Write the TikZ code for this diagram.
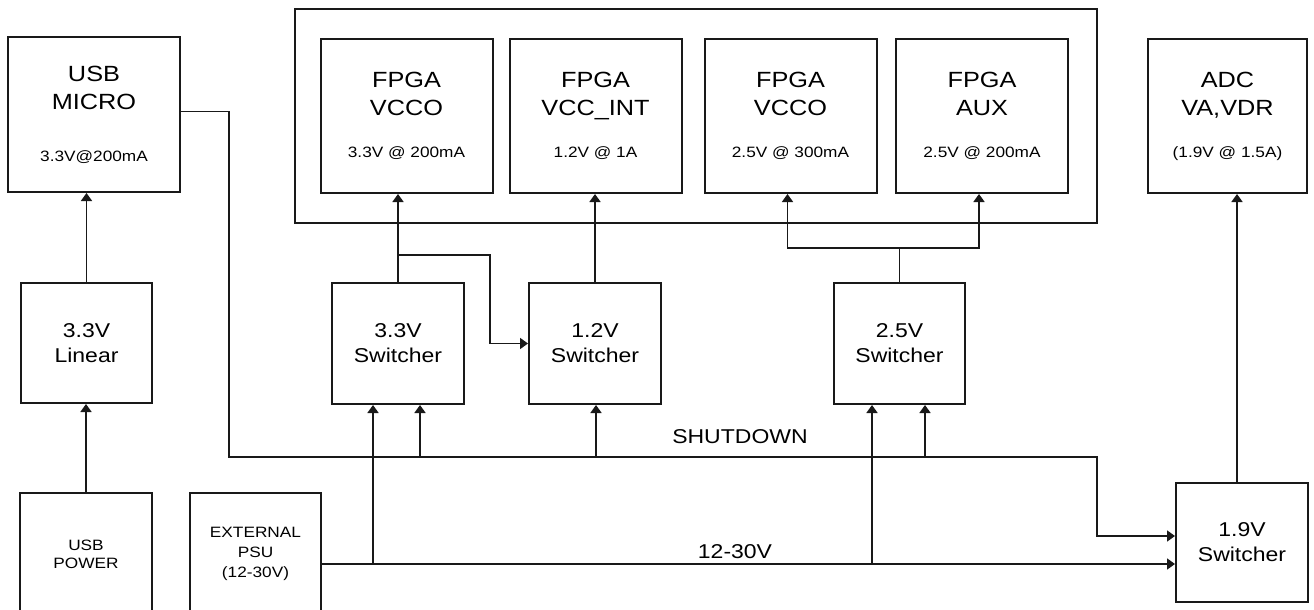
\documentclass[tikz,border=0pt]{standalone}
\usepackage{fontspec}
\setmainfont[FakeStretch=1.15]{Liberation Sans}
\usepackage{tikz}
\usetikzlibrary{arrows.meta,calc,positioning}
\tikzset{
  bloque/.style={draw=black!90,line width=2pt,align=center,inner sep=0pt,font=\fontsize{22}{28}\selectfont},
  conv/.style={bloque,minimum width=132pt,minimum height=121pt,font=\fontsize{20}{25}\selectfont},
  linea/.style={line width=1.7pt,black!90},
  flecha/.style={linea,-{Triangle[width=11pt,length=8pt]}},
  rotulo/.style={font=\fontsize{20}{24}\selectfont,inner sep=0pt}
}
\newcommand{\chico}[1]{{\fontsize{15}{18}\selectfont #1}}
\begin{document}
\begin{tikzpicture}[x=1pt,y=-1pt]
\useasboundingbox (0,0) rectangle (1314,610);
\clip (0,0) rectangle (1314,610);
\node[bloque,minimum width=172pt,minimum height=155pt] (usbmicro) at (94,114.5) {USB\\MICRO\\[24pt]\chico{3.3V@200mA}};
\node[bloque,minimum width=802pt,minimum height=214pt] (fpga) at (696,116) {};
\foreach \nom/\cx/\riel/\valor in {vcco33/406.5/VCCO/3.3V @ 200mA,vccint/595.5/VCC\_INT/1.2V @ 1A,vcco25/790.5/VCCO/2.5V @ 300mA,aux/982/AUX/2.5V @ 200mA}
  \node[bloque,minimum width=172pt,minimum height=154pt] (\nom) at (\cx,116) {FPGA\\\riel\\[14pt]\chico{\valor}};
\node[bloque,minimum width=159pt,minimum height=154pt] (adc) at (1227.5,116) {ADC\\VA,VDR\\[14pt]\chico{(1.9V @ 1.5A)}};
\node[conv,minimum width=131pt,minimum height=120pt] (lineal) at (86.5,343) {3.3V\\Linear};
\node[conv] (sw33) at (398,343.5) {3.3V\\Switcher};
\node[conv] (sw12) at (595,343.5) {1.2V\\Switcher};
\node[conv,minimum width=131pt] (sw25) at (899.5,343.5) {2.5V\\Switcher};
\node[conv,minimum height=119pt] (sw19) at (1242,542.5) {1.9V\\Switcher};
\node[conv,minimum height=122pt,font=\fontsize{15}{18}\selectfont] (usbpow) at (86,554) {USB\\POWER};
\node[conv,minimum width=131pt,minimum height=122pt,font=\fontsize{15}{20}\selectfont] (extpsu) at (255.5,554) {EXTERNAL\\PSU\\(12-30V)};
\node[rotulo] (shutdown) at (740,437) {SHUTDOWN};
\node[rotulo] (vin) at (735,552) {12-30V};
\draw[flecha] (usbpow.north) -- (usbpow.north |- lineal.south);
\draw[flecha] (lineal.north) -- (lineal.north |- usbmicro.south);
\coordinate (sd1) at (229,457);
\coordinate (sd2) at (1097,457);
\draw[flecha] ([yshift=3pt]usbmicro.east) -| (sd1) -- (sd2) |- ([yshift=6.5pt]sw19.west);
\foreach \x/\dest in {420/sw33,596/sw12,925/sw25}{
  \coordinate (b) at (\x,457);
  \draw[flecha] (b) -- (b |- \dest.south);}
\draw[flecha] ([yshift=-10pt]extpsu.east) -- ([yshift=-21.5pt]sw19.west);
\foreach \x/\dest in {373/sw33,872/sw25}{
  \coordinate (b) at (\x,564);
  \draw[flecha] (b) -- (b |- \dest.south);}
\draw[flecha] (sw33.north) -- (sw33.north |- vcco33.south);
\coordinate (t33) at (490,255);
\draw[flecha] (sw33.north |- t33) -- (t33) |- (sw12.west);
\draw[flecha] (sw12.north) -- (sw12.north |- vccint.south);
\coordinate (t25) at (899.5,248);
\draw[linea] (sw25.north) -- (t25);
\draw[flecha] (t25) -| ([xshift=-3pt]vcco25.south);
\draw[flecha] (t25) -| ([xshift=-3pt]aux.south);
\draw[flecha] ([xshift=-5pt]sw19.north) -- ([xshift=-5pt]sw19.north |- adc.south);
\end{tikzpicture}
\end{document}
